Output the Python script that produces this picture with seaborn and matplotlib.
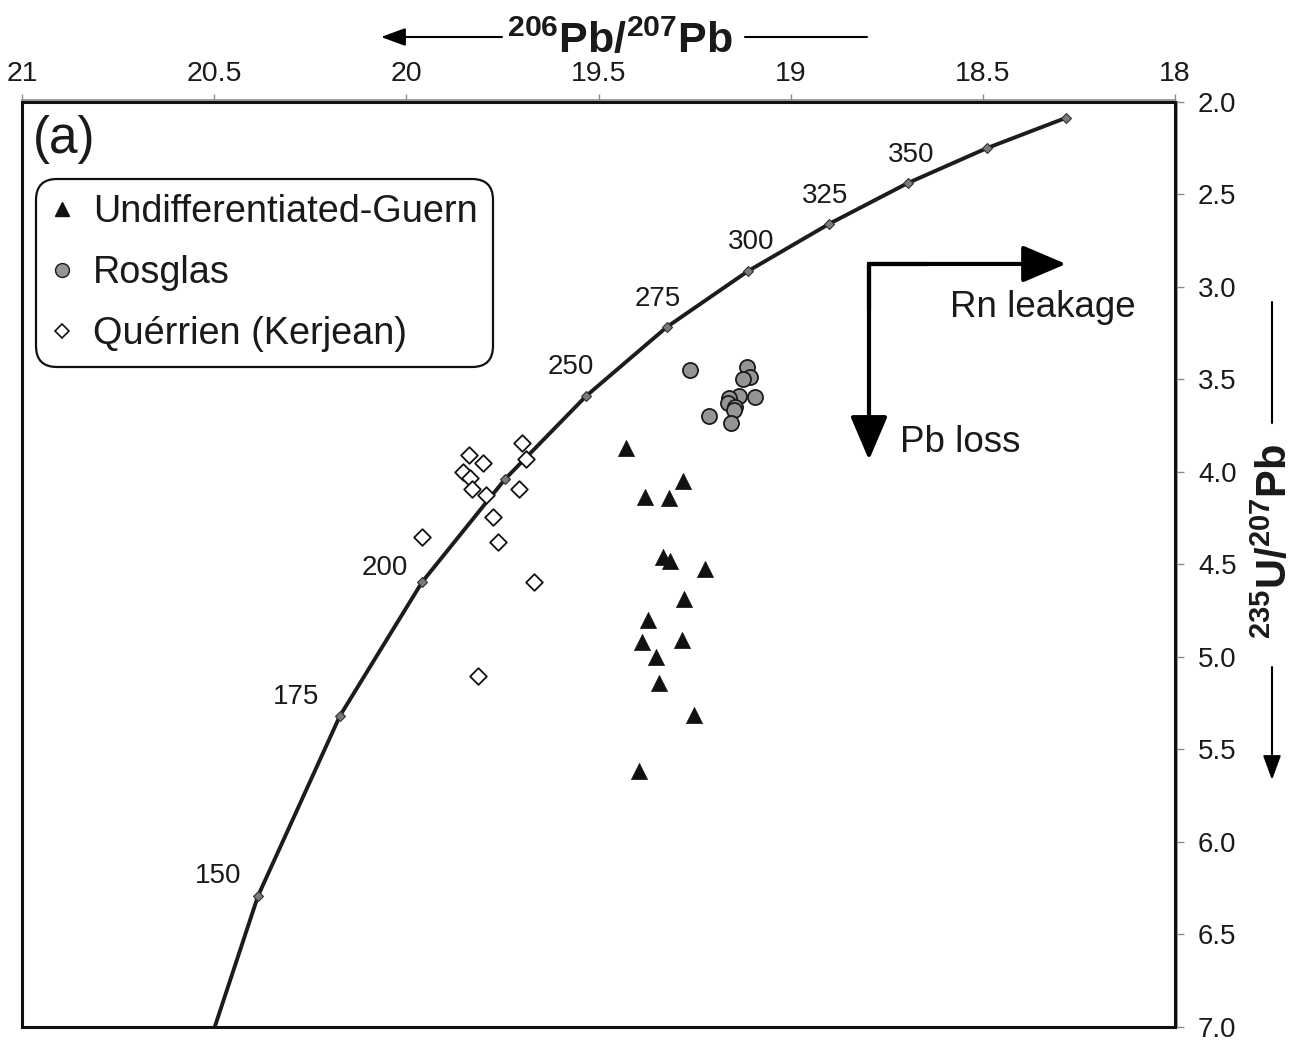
import matplotlib
matplotlib.use("Agg")
import matplotlib.pyplot as plt
from matplotlib.lines import Line2D
from matplotlib.patches import Rectangle
import pandas as pd
import seaborn as sns

# Reference evolution curve, ages in Ma
ages = [125, 150, 175, 200, 225, 250, 275, 300, 325, 350, 375, 400]
curve_pb206_pb207 = [20.599, 20.386, 20.173, 19.959, 19.743, 19.532,
                     19.322, 19.111, 18.900, 18.695, 18.489, 18.284]
curve_u235_pb207 = [7.632, 6.292, 5.319, 4.595, 4.038, 3.589,
                    3.216, 2.914, 2.659, 2.438, 2.249, 2.086]
labelled_ages = [150, 175, 200, 250, 275, 300, 325, 350]

# Samples
guern_x = [19.428, 19.281, 19.379, 19.316, 19.331, 19.314, 19.223, 19.277,
           19.370, 19.388, 19.283, 19.350, 19.342, 19.252, 19.395]
guern_y = [3.870, 4.047, 4.134, 4.142, 4.461, 4.479, 4.523, 4.685,
           4.798, 4.919, 4.906, 5.002, 5.142, 5.314, 5.618]

rosglas_x = [19.262, 19.114, 19.106, 19.125, 19.135, 19.092,
             19.160, 19.162, 19.145, 19.147, 19.212, 19.154]
rosglas_y = [3.449, 3.431, 3.488, 3.496, 3.589, 3.596,
             3.602, 3.625, 3.647, 3.665, 3.697, 3.737]

querrien_x = [19.838, 19.800, 19.698, 19.689, 19.852, 19.834, 19.830,
              19.793, 19.707, 19.775, 19.959, 19.762, 19.667, 19.813]
querrien_y = [3.908, 3.950, 3.842, 3.930, 3.998, 4.031, 4.092,
              4.124, 4.092, 4.242, 4.350, 4.380, 4.596, 5.101]

series_names = ["Undifferentiated-Guern", "Rosglas", "Quérrien (Kerjean)"]

x_ticks = [21, 20.5, 20, 19.5, 19, 18.5, 18]
x_tick_labels = ["21", "20.5", "20", "19.5", "19", "18.5", "18"]
y_ticks = [2.0, 2.5, 3.0, 3.5, 4.0, 4.5, 5.0, 5.5, 6.0, 6.5, 7.0]
y_tick_labels = [f"{v:.1f}" for v in y_ticks]

# age-label offsets from their curve markers (points)
label_offsets = [(-28.8, 14.4), (-31.7, 13.7), (-26.6, 10.1), (-10.8, 20.9),
                 (-6.5, 20.2), (2.2, 20.9), (-2.9, 20.2), (2.2, 20.2)]

sns.set_theme(style="white")
plt.rcParams["font.family"] = ["Liberation Sans", "DejaVu Sans"]
plt.rcParams["mathtext.fontset"] = "custom"
plt.rcParams["mathtext.rm"] = "Liberation Sans"
plt.rcParams["mathtext.bf"] = "Liberation Sans:bold"

W, H = 1299, 1045
fig = plt.figure(figsize=(W / 100, H / 100), dpi=100)
ax = fig.add_axes([22 / W, 18 / H, 1153 / W, 925 / H])

curve = pd.DataFrame({"x": curve_pb206_pb207, "y": curve_u235_pb207, "age": ages})
sns.lineplot(data=curve, x="x", y="y", sort=False, estimator=None, ax=ax,
             color="#1c1c1c", lw=2.8, marker="D", markersize=5,
             markerfacecolor="#7a7a7a", markeredgecolor="#333333",
             markeredgewidth=0.8, zorder=2)

sns.scatterplot(x=guern_x, y=guern_y, marker="^", s=135, color="#111111",
                edgecolor="#111111", linewidth=0.5, ax=ax, zorder=3)
sns.scatterplot(x=rosglas_x, y=rosglas_y, marker="o", s=118, color="#959595",
                edgecolor="#1a1a1a", linewidth=1.3, ax=ax, zorder=3)
sns.scatterplot(x=querrien_x, y=querrien_y, marker="D", s=72, color="white",
                edgecolor="#111111", linewidth=1.3, ax=ax, zorder=4)

for age, (dx, dy) in zip(labelled_ages, label_offsets):
    i = ages.index(age)
    ax.annotate(str(age), (curve_pb206_pb207[i], curve_u235_pb207[i]),
                xytext=(dx, dy), textcoords="offset points",
                ha="center", va="center", fontsize=20, color="#1a1a1a")

# axes, ticks and frame
ax.set_xlim(21, 18)
ax.set_ylim(7.0, 2.0)
ax.set_xticks(x_ticks)
ax.set_xticklabels(x_tick_labels)
ax.set_yticks(y_ticks)
ax.set_yticklabels(y_tick_labels)
ax.set_xlabel("")
ax.set_ylabel("")
ax.xaxis.tick_top()
ax.yaxis.tick_right()
ax.tick_params(axis="x", top=True, bottom=False, labeltop=True, labelbottom=False,
               direction="out", length=4, width=1, color="#8c8c8c", pad=5,
               labelsize=20.5, labelcolor="#1a1a1a")
ax.tick_params(axis="y", right=True, left=False, labelright=True, labelleft=False,
               direction="out", length=5, width=1, color="#8c8c8c", pad=10,
               labelsize=20, labelcolor="#1a1a1a")
for side in ["left", "bottom"]:
    ax.spines[side].set_visible(False)
for side in ["top", "right"]:
    ax.spines[side].set_color("#8c8c8c")
    ax.spines[side].set_linewidth(1.2)
    ax.spines[side].set_position(("outward", 1.5))
ax.add_patch(Rectangle((0, 0), 1, 1, transform=ax.transAxes, fill=False,
                       edgecolor="#111111", lw=2.2, clip_on=False, zorder=5))

# legend
handles = [
    Line2D([], [], ls="none", marker="^", markersize=10, color="#111111"),
    Line2D([], [], ls="none", marker="o", markersize=10, markerfacecolor="#959595",
           markeredgecolor="#1a1a1a", markeredgewidth=1.0),
    Line2D([], [], ls="none", marker="D", markersize=7, markerfacecolor="white",
           markeredgecolor="#111111", markeredgewidth=1.2),
]
leg = ax.legend(handles, series_names, loc="upper left",
                bbox_to_anchor=(0.012, 0.917), borderaxespad=0, fontsize=27.3,
                frameon=True, fancybox=True, handlelength=0.6,
                handletextpad=0.5, labelspacing=0.66, borderpad=0.4,
                edgecolor="#111111", framealpha=1)
leg.get_frame().set_linewidth(1.6)
leg.get_frame().set_boxstyle("round,pad=0,rounding_size=0.55")
for t in leg.get_texts():
    t.set_color("#1a1a1a")

ax.text(0.0095, 0.96, "(a)", transform=ax.transAxes, ha="left", va="center",
        fontsize=37, color="#1a1a1a")

# process arrows
corner = (0.7346, 0.8249)
ax.add_line(Line2D([corner[0], corner[0], corner[0] + 0.05],
                   [corner[1] - 0.05, corner[1], corner[1]],
                   transform=ax.transAxes, color="black", lw=3,
                   solid_joinstyle="miter", zorder=6))
big_arrow = dict(arrowstyle="-|>,head_length=2.7,head_width=1.15",
                 mutation_scale=10, lw=3, color="black", shrinkA=0, shrinkB=0)
ax.annotate("", xy=(0.9055, corner[1]), xytext=corner, xycoords="axes fraction",
            textcoords="axes fraction", arrowprops=big_arrow, zorder=6)
ax.annotate("", xy=(corner[0], 0.6130), xytext=corner, xycoords="axes fraction",
            textcoords="axes fraction", arrowprops=big_arrow, zorder=6)
ax.text(0.8049, 0.7773, "Rn leakage", transform=ax.transAxes, ha="left",
        va="center", fontsize=26.5, color="#1a1a1a")
ax.text(0.7615, 0.6314, "Pb loss", transform=ax.transAxes, ha="left",
        va="center", fontsize=26.5, color="#1a1a1a")

# axis titles with direction arrows
small_arrow = dict(arrowstyle="-|>,head_length=1.5,head_width=0.55",
                   mutation_scale=10, lw=1.5, color="black", shrinkA=0, shrinkB=0)
plain_line = dict(arrowstyle="-", lw=1.5, color="black", shrinkA=0, shrinkB=0)

fig.text(620 / W, 1 - 53 / H, r"$^{\mathbf{206}}\mathbf{Pb/}^{\mathbf{207}}\mathbf{Pb}$",
         ha="center", va="baseline", fontsize=31, color="#1a1a1a")
ax.annotate("", xy=(381 / W, 1 - 37 / H), xytext=(502 / W, 1 - 37 / H),
            xycoords="figure fraction", textcoords="figure fraction",
            arrowprops=small_arrow, annotation_clip=False)
ax.annotate("", xy=(867 / W, 1 - 37 / H), xytext=(745 / W, 1 - 37 / H),
            xycoords="figure fraction", textcoords="figure fraction",
            arrowprops=plain_line, annotation_clip=False)

fig.text(1275 / W, 1 - 541 / H, r"$^{\mathbf{235}}\mathbf{U/}^{\mathbf{207}}\mathbf{Pb}$",
         ha="center", va="center", rotation=90, fontsize=30, color="#1a1a1a")
ax.annotate("", xy=(1272 / W, 1 - 302 / H), xytext=(1272 / W, 1 - 423 / H),
            xycoords="figure fraction", textcoords="figure fraction",
            arrowprops=plain_line, annotation_clip=False)
ax.annotate("", xy=(1272 / W, 1 - 780 / H), xytext=(1272 / W, 1 - 667 / H),
            xycoords="figure fraction", textcoords="figure fraction",
            arrowprops=small_arrow, annotation_clip=False)

fig.savefig("out.png", dpi=100, facecolor="white")
